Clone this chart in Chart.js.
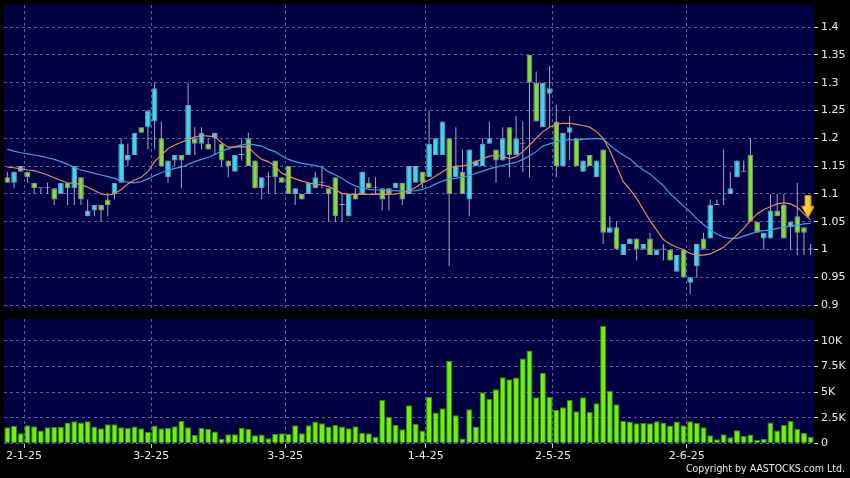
<!DOCTYPE html>
<html>
<head>
<meta charset="utf-8">
<script src="https://cdn.jsdelivr.net/npm/chart.js@4.4.1/dist/chart.umd.min.js"></script>
<style>
  html, body { margin: 0; padding: 0; background: #000; }
  #wrap { position: relative; width: 850px; height: 478px; overflow: hidden; background: #000; }
  #priceChart { position: absolute; left: 0; top: 0; }
  #volumeChart { position: absolute; left: 0; top: 312px; }
  #copy { position: absolute; right: 5px; top: 462px; color: #e8e8e8;
          font: 10.5px 'DejaVu Sans Condensed', 'DejaVu Sans', sans-serif; white-space: nowrap; }
</style>
</head>
<body>
<div id="wrap">
  <canvas id="priceChart" width="850" height="312"></canvas>
  <canvas id="volumeChart" width="850" height="166"></canvas>
  <div id="copy">Copyright by AASTOCKS.com Ltd.</div>
</div>
<script>
// daily candles, 27-12-24 .. 26-6-25 (one entry per trading day)
const openP = [
  1.13,1.12,1.14,1.14,1.12,1.11,1.11,1.11,1.10,1.12,
  1.11,1.13,1.06,1.07,1.08,1.09,1.10,1.12,1.16,1.17,
  1.22,1.22,1.23,1.20,1.13,1.16,1.17,1.17,1.20,1.19,
  1.19,1.20,1.19,1.16,1.14,1.17,1.20,1.16,1.11,1.13,
  1.16,1.13,1.15,1.10,1.10,1.10,1.11,1.12,1.11,1.13,
  1.08,1.06,1.10,1.10,1.12,1.11,1.11,1.11,1.11,1.12,
  1.10,1.12,1.14,1.13,1.17,1.17,1.20,1.13,1.14,1.09,
  1.15,1.15,1.19,1.18,1.16,1.22,1.17,1.19,1.35,1.30,
  1.22,1.28,1.23,1.15,1.21,1.20,1.14,1.17,1.13,1.18,
  1.03,1.04,0.99,1.01,1.02,1.00,1.02,0.99,1.00,1.00,
  0.96,1.00,0.94,0.97,1.02,1.02,1.08,1.09,1.10,1.13,
  1.14,1.17,1.05,1.02,1.02,1.07,1.08,1.04,1.06,1.04,
  1.00
];
const highP = [
  1.14,1.14,1.15,1.14,1.12,1.11,1.12,1.11,1.12,1.12,
  1.15,1.13,1.09,1.08,1.08,1.10,1.12,1.20,1.19,1.21,
  1.22,1.25,1.30,1.23,1.16,1.17,1.17,1.30,1.22,1.22,
  1.20,1.21,1.19,1.16,1.17,1.20,1.21,1.16,1.13,1.14,
  1.16,1.13,1.15,1.11,1.10,1.12,1.14,1.15,1.11,1.13,
  1.10,1.10,1.11,1.14,1.13,1.13,1.11,1.11,1.12,1.12,
  1.15,1.15,1.14,1.25,1.20,1.23,1.20,1.22,1.18,1.18,
  1.16,1.20,1.23,1.18,1.22,1.22,1.24,1.23,1.35,1.32,
  1.30,1.33,1.26,1.21,1.24,1.20,1.16,1.17,1.16,1.18,
  1.06,1.05,1.01,1.02,1.02,1.01,1.03,1.00,1.01,1.00,
  0.99,1.00,0.95,1.01,1.03,1.09,1.09,1.18,1.14,1.16,
  1.16,1.20,1.05,1.03,1.10,1.10,1.10,1.05,1.12,1.04,
  1.01
];
const lowP = [
  1.12,1.11,1.14,1.12,1.10,1.10,1.10,1.08,1.10,1.08,
  1.08,1.08,1.06,1.06,1.05,1.06,1.09,1.12,1.15,1.17,
  1.21,1.18,1.18,1.15,1.12,1.15,1.11,1.17,1.17,1.18,
  1.18,1.17,1.15,1.13,1.14,1.16,1.15,1.11,1.09,1.10,
  1.10,1.12,1.10,1.08,1.09,1.10,1.11,1.11,1.05,1.05,
  1.05,1.06,1.09,1.10,1.11,1.10,1.07,1.07,1.11,1.08,
  1.10,1.12,1.11,1.13,1.17,1.17,0.97,1.13,1.10,1.06,
  1.15,1.15,1.19,1.12,1.16,1.13,1.17,1.14,1.13,1.23,
  1.22,1.22,1.13,1.15,1.16,1.15,1.14,1.15,1.13,1.01,
  1.03,1.00,0.99,1.01,0.98,1.00,0.99,0.99,0.98,0.98,
  0.96,0.95,0.92,0.95,1.00,1.02,1.08,1.08,1.10,1.13,
  1.14,1.05,1.03,1.00,1.02,1.06,1.02,1.00,0.99,0.99,
  0.99
];
const closeP = [
  1.12,1.14,1.15,1.13,1.11,1.11,1.11,1.09,1.12,1.11,
  1.15,1.09,1.07,1.08,1.07,1.08,1.12,1.19,1.17,1.21,
  1.21,1.25,1.29,1.15,1.16,1.17,1.16,1.26,1.19,1.21,
  1.18,1.21,1.16,1.15,1.17,1.17,1.15,1.11,1.13,1.13,
  1.13,1.12,1.10,1.11,1.09,1.12,1.13,1.12,1.10,1.06,
  1.08,1.10,1.09,1.14,1.11,1.11,1.09,1.10,1.12,1.09,
  1.15,1.15,1.12,1.19,1.20,1.23,1.10,1.15,1.10,1.18,
  1.16,1.19,1.20,1.16,1.20,1.17,1.20,1.19,1.30,1.23,
  1.30,1.29,1.15,1.21,1.22,1.15,1.16,1.15,1.16,1.03,
  1.04,1.00,1.01,1.02,1.00,1.01,0.99,1.00,1.00,0.98,
  0.99,0.95,0.95,1.01,1.00,1.08,1.08,1.09,1.11,1.16,
  1.14,1.05,1.03,1.03,1.07,1.06,1.02,1.05,1.03,1.03,
  1.00
];
// volume in thousands
const volumeK = [
  1.56,1.69,0.98,1.76,1.66,1.24,1.56,1.60,1.60,2.02,
  2.15,2.02,2.15,1.63,1.47,1.86,1.86,1.56,1.50,1.63,
  1.47,1.10,1.73,1.47,1.50,1.66,2.18,1.56,0.81,1.50,
  1.40,1.14,0.42,0.88,0.88,1.53,1.43,0.78,0.85,0.49,
  0.91,0.98,0.91,1.76,0.98,1.76,2.12,1.95,1.63,1.79,
  1.63,1.47,1.66,1.04,0.98,0.65,4.23,2.57,1.82,1.37,
  3.71,1.92,1.24,4.56,3.00,3.42,8.08,2.74,0.46,3.32,
  1.63,4.98,4.33,5.28,6.45,6.25,6.42,8.30,9.06,4.50,
  6.90,4.56,3.26,3.52,4.23,3.13,4.50,3.06,3.91,11.5,
  5.11,3.81,2.21,2.12,1.95,1.99,1.95,2.15,2.02,1.73,
  2.12,1.76,2.15,1.99,1.56,0.78,0.39,0.88,0.59,1.27,
  0.72,0.85,0.33,0.42,2.02,1.24,1.79,2.21,1.40,1.04,
  0.65
];
// moving averages as drawn (orange = short, blue = long)
const maShort = [
  1.148,1.147,1.145,1.143,1.142,1.138,1.134,1.129,1.124,1.120,
  1.119,1.117,1.112,1.106,1.100,1.098,1.100,1.108,1.118,1.125,
  1.130,1.140,1.158,1.170,1.181,1.188,1.193,1.198,1.202,1.205,
  1.204,1.203,1.192,1.184,1.184,1.185,1.184,1.172,1.162,1.158,
  1.150,1.137,1.132,1.127,1.123,1.120,1.117,1.116,1.113,1.107,
  1.101,1.099,1.099,1.099,1.099,1.099,1.099,1.099,1.100,1.102,
  1.105,1.112,1.120,1.125,1.132,1.140,1.147,1.150,1.150,1.153,
  1.158,1.163,1.168,1.169,1.168,1.163,1.167,1.176,1.188,1.200,
  1.212,1.220,1.225,1.227,1.227,1.225,1.223,1.220,1.212,1.200,
  1.178,1.150,1.122,1.108,1.092,1.072,1.052,1.035,1.018,1.010,
  1.004,1.000,0.993,0.990,0.990,0.992,0.998,1.004,1.015,1.026,
  1.038,1.052,1.064,1.072,1.077,1.082,1.084,1.082,1.076,1.064,
  1.053
];
const maLong = [
  1.180,1.177,1.174,1.172,1.170,1.168,1.165,1.162,1.158,1.153,
  1.148,1.143,1.140,1.137,1.134,1.131,1.128,1.124,1.121,1.120,
  1.122,1.127,1.133,1.138,1.142,1.146,1.148,1.153,1.158,1.162,
  1.166,1.171,1.177,1.181,1.185,1.188,1.190,1.188,1.186,1.180,
  1.176,1.168,1.162,1.158,1.155,1.153,1.151,1.148,1.140,1.134,
  1.128,1.120,1.114,1.111,1.108,1.107,1.107,1.106,1.106,1.105,
  1.105,1.106,1.108,1.112,1.118,1.123,1.127,1.128,1.130,1.133,
  1.137,1.141,1.145,1.148,1.151,1.154,1.157,1.162,1.168,1.176,
  1.186,1.190,1.194,1.197,1.197,1.197,1.198,1.199,1.200,1.198,
  1.188,1.178,1.170,1.163,1.152,1.143,1.136,1.125,1.115,1.100,
  1.090,1.078,1.068,1.055,1.045,1.035,1.028,1.022,1.020,1.020,
  1.024,1.028,1.032,1.034,1.035,1.038,1.040,1.042,1.044,1.046,
  1.047
];
const monthStartIdx = [3, 22, 42, 63, 82, 102];
const monthLabels = ['2-1-25', '3-2-25', '3-3-25', '1-4-25', '2-5-25', '2-6-25'];
const priceTicks = [0.9, 0.95, 1, 1.05, 1.1, 1.15, 1.2, 1.25, 1.3, 1.35, 1.4];
const volumeTicks = [0, 2.5, 5, 7.5, 10];
const lastMarker = [{ x: 119.6, y: 1.077 }];

const UP = '#33dcf2';
const DOWN = '#80e22e';
const WICK = '#a4a4c0';
const GRID = 'rgba(115,115,175,0.8)';
const NAVY = '#000042';

Chart.defaults.font.family = "'DejaVu Sans', sans-serif";
Chart.defaults.font.size = 11;
Chart.defaults.color = '#e8e8e8';

const plotBg = {
  id: 'plotBg',
  beforeDraw(chart) {
    const { ctx, chartArea: a } = chart;
    ctx.save();
    ctx.fillStyle = NAVY;
    ctx.fillRect(a.left, a.top, a.right - a.left, a.bottom - a.top);
    ctx.restore();
  }
};

// yellow marker arrow
const arrowImg = document.createElement('canvas');
arrowImg.width = 14;
arrowImg.height = 23;
(function () {
  const a = arrowImg.getContext('2d');
  const g = a.createLinearGradient(0, 0, 14, 0);
  g.addColorStop(0, '#fff070');
  g.addColorStop(1, '#f0a400');
  a.beginPath();
  a.moveTo(4, 0.5); a.lineTo(10, 0.5); a.lineTo(10, 11); a.lineTo(13.5, 11);
  a.lineTo(7, 22.5); a.lineTo(0.5, 11); a.lineTo(4, 11); a.closePath();
  a.fillStyle = g;
  a.fill();
  a.strokeStyle = '#c88800';
  a.lineWidth = 1;
  a.stroke();
})();

const idx = closeP.map((_, i) => i);
const bodyColor = i => closeP[i] > openP[i] ? UP : (closeP[i] < openP[i] ? DOWN : WICK);

function xAxis(showLabels) {
  return {
    type: 'linear',
    offset: false,
    min: -0.5,
    max: closeP.length - 0.5,
    afterBuildTicks: s => { s.ticks = monthStartIdx.map(i => ({ value: i - 0.5 })); },
    afterFit: s => { s.height = showLabels ? 34 : 4; s.paddingLeft = 0; s.paddingRight = 0; },
    grid: { color: GRID, drawTicks: showLabels, tickLength: 4, tickColor: '#cccccc', offset: false },
    border: { display: false, dash: [3, 3] },
    ticks: {
      display: showLabels, padding: 2, maxRotation: 0, autoSkip: false,
      callback: (v, k) => monthLabels[k]
    }
  };
}

function yAxis(min, max, tickValues, fmt) {
  return {
    position: 'right',
    min: min,
    max: max,
    afterBuildTicks: s => { s.ticks = tickValues.map(v => ({ value: v })); },
    afterFit: s => { s.width = 36; s.paddingTop = 0; s.paddingBottom = 0; },
    grid: { color: GRID, tickLength: 4, tickColor: '#dddddd' },
    border: { display: false, dash: [3, 3] },
    ticks: { padding: 3, font: { size: 11, lineHeight: 0.1 }, callback: fmt }
  };
}

new Chart(document.getElementById('priceChart'), {
  type: 'bar',
  data: {
    datasets: [
      {
        type: 'line', data: lastMarker, showLine: false,
        pointStyle: arrowImg, pointRadius: 6, pointHoverRadius: 6, order: 0
      },
      {
        type: 'line', data: idx.map(i => ({ x: i, y: maShort[i] })),
        borderColor: '#e48c58', borderWidth: 1.2, pointRadius: 0, tension: 0, order: 1
      },
      {
        type: 'line', data: idx.map(i => ({ x: i, y: maLong[i] })),
        borderColor: '#3a9fe6', borderWidth: 1.2, pointRadius: 0, tension: 0, order: 2
      },
      {
        data: idx.map(i => ({ x: i, y: [openP[i], closeP[i]] })),
        backgroundColor: idx.map(bodyColor),
        borderColor: idx.map(i => closeP[i] === openP[i] ? WICK : '#8e8eaa'),
        borderWidth: 1, borderSkipped: false, minBarLength: 1,
        grouped: false, categoryPercentage: 1, barPercentage: 0.85, order: 3
      },
      {
        data: idx.map(i => ({ x: i, y: [lowP[i], highP[i]] })),
        backgroundColor: WICK,
        grouped: false, categoryPercentage: 1, barPercentage: 0.15, order: 4
      }
    ]
  },
  options: {
    responsive: false,
    animation: false,
    events: [],
    layout: { autoPadding: false, padding: { left: 4, top: 5, right: 0, bottom: 0 } },
    plugins: { legend: { display: false }, tooltip: { enabled: false } },
    scales: {
      x: xAxis(false),
      y: yAxis(0.8948, 1.4397, priceTicks, v => String(+v.toFixed(2)))
    }
  },
  plugins: [plotBg]
});

new Chart(document.getElementById('volumeChart'), {
  type: 'bar',
  data: {
    datasets: [{
      data: idx.map(i => ({ x: i, y: volumeK[i] })),
      backgroundColor: '#6cf20c',
      borderColor: '#3a8a08',
      borderWidth: 1,
      grouped: false, categoryPercentage: 1, barPercentage: 0.9
    }]
  },
  options: {
    responsive: false,
    animation: false,
    events: [],
    layout: { autoPadding: false, padding: { left: 4, top: 7, right: 0, bottom: 0 } },
    plugins: { legend: { display: false }, tooltip: { enabled: false } },
    scales: {
      x: xAxis(true),
      y: yAxis(-0.07, 12.15, volumeTicks, v => v === 0 ? '0' : v + 'K')
    }
  },
  plugins: [plotBg]
});
</script>
</body>
</html>
